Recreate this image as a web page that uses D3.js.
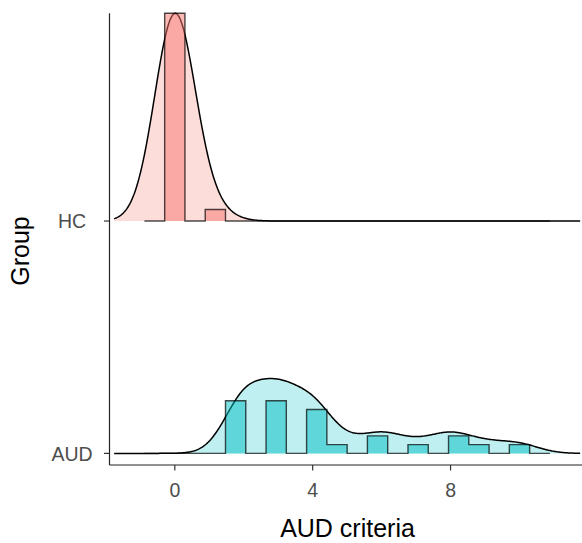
<!DOCTYPE html>
<html>
<head>
<meta charset="utf-8">
<script src="https://cdn.jsdelivr.net/npm/d3@7"></script>
<style>
  html, body { margin: 0; padding: 0; background: #fff; }
  svg { display: block; }
  text { font-family: "Liberation Sans", Arial, sans-serif; }
</style>
</head>
<body>
<svg id="chart" width="582" height="543"></svg>
<script>
// ---- data ----
const groups = ["AUD", "HC"];                 // bottom to top
const groupColors = ["#00BFC4", "#F8766D"];
const hcValues = [0, 1];
const hcCounts = [18, 1];
const audValues = [2, 3, 4, 5, 6, 7, 8, 9, 10];
const audCounts = [6, 6, 5, 1, 2, 1, 2, 1, 1];
const xTicks = [0, 4, 8];
const nBins = 18;
const ridgeScale = 0.894;
const xTitle = "AUD criteria";
const yTitle = "Group";

// ---- expand raw observations ----
function expand(vals, counts) {
  const out = [];
  vals.forEach((v, i) => { for (let k = 0; k < counts[i]; k++) out.push(v); });
  return out;
}
const raw = { AUD: expand(audValues, audCounts), HC: expand(hcValues, hcCounts) };
const all = raw.AUD.concat(raw.HC);
const xmin = d3.min(all), xmax = d3.max(all);

// R's bw.nrd0
function bwNrd0(x) {
  const s = x.slice().sort(d3.ascending);
  const hi = d3.deviation(s);
  let lo = Math.min(hi, (d3.quantileSorted(s, 0.75) - d3.quantileSorted(s, 0.25)) / 1.34);
  if (!lo) lo = hi || Math.abs(s[0]) || 1;
  return 0.9 * lo * Math.pow(s.length, -0.2);
}
const bw = d3.mean(groups.map(g => bwNrd0(raw[g])));
const from = xmin - 3 * bw, to = xmax + 3 * bw;

// KDE
const gridN = 512;
const grid = d3.range(gridN).map(i => from + (to - from) * i / (gridN - 1));
function kde(x) {
  const n = x.length, c = 1 / (Math.sqrt(2 * Math.PI) * bw * n);
  return grid.map(g => [g, c * d3.sum(x, xi => Math.exp(-0.5 * ((g - xi) / bw) ** 2))]);
}
const dens = {};
groups.forEach(g => dens[g] = kde(raw[g]));

// binline (right-closed bins, padded)
const w = (xmax - xmin) / (nBins - 1);
const hist = {};
groups.forEach(g => {
  const n = raw[g].length;
  const counts = new Array(nBins).fill(0);
  raw[g].forEach(v => {
    const k = Math.ceil((v - xmin) / w - 0.5 - 1e-9);
    counts[Math.max(0, Math.min(nBins - 1, k))]++;
  });
  const pts = [];
  for (let k = -1; k <= nBins; k++) {
    const c = (k >= 0 && k < nBins) ? counts[k] : 0;
    const h = c / (n * w);
    const l = xmin + (k - 0.5) * w, r = xmin + (k + 0.5) * w;
    pts.push([l, h], [r, h]);
  }
  hist[g] = pts;
});

// ---- scales ----
const svg = d3.select("#chart");
const panel = { left: 109.5, right: 584.8, top: 13.3, bottom: 465 };
const span = to - from;
const x = d3.scaleLinear().domain([from - 0.01 * span, to + 0.01 * span]).range([panel.left, panel.right]);
const y = d3.scaleLinear().domain([-0.05, 1.894]).range([panel.bottom, panel.top]);
const spacing = y(0) - y(1);
const maxDens = d3.max(groups, g => d3.max(dens[g], d => d[1]));
const maxHist = d3.max(groups, g => d3.max(hist[g], d => d[1]));
const hDens = d3.scaleLinear().domain([0, maxDens]).range([0, ridgeScale * spacing]);
const hHist = d3.scaleLinear().domain([0, maxHist]).range([0, ridgeScale * spacing]);

// ---- ridges ----
groups.forEach((g, gi) => {
  const base = y(gi);
  const col = groupColors[gi];
  const areaH = d3.area().x(d => x(d[0])).y0(base).y1(d => base - hHist(d[1]));
  const lineH = d3.line().x(d => x(d[0])).y(d => base - hHist(d[1]));
  const areaD = d3.area().x(d => x(d[0])).y0(base).y1(d => base - hDens(d[1]));
  const lineD = d3.line().x(d => x(d[0])).y(d => base - hDens(d[1]));
  const gg = svg.append("g");
  gg.append("path").attr("d", areaD(dens[g])).attr("fill", col).attr("fill-opacity", 0.25);
  gg.append("path").attr("d", lineD(dens[g])).attr("fill", "none").attr("stroke", "#000").attr("stroke-width", 1.5);
  gg.append("path").attr("d", areaH(hist[g])).attr("fill", col).attr("fill-opacity", 0.5);
  gg.append("path").attr("d", lineH(hist[g])).attr("fill", "none").attr("stroke", "#000").attr("stroke-opacity", 0.7).attr("stroke-width", 1.4);
});

// ---- axes ----
const axisCol = "#222";
svg.append("line").attr("x1", panel.left).attr("x2", 582).attr("y1", panel.bottom).attr("y2", panel.bottom)
  .attr("stroke", axisCol).attr("stroke-width", 1.2);
svg.append("line").attr("x1", panel.left).attr("x2", panel.left).attr("y1", panel.top).attr("y2", panel.bottom)
  .attr("stroke", axisCol).attr("stroke-width", 1.2);

xTicks.forEach(t => {
  svg.append("line").attr("x1", x(t)).attr("x2", x(t)).attr("y1", panel.bottom).attr("y2", panel.bottom + 5.5)
    .attr("stroke", "#333").attr("stroke-width", 1.2);
  svg.append("text").attr("x", x(t)).attr("y", 496.7).attr("text-anchor", "middle")
    .attr("font-size", 19.5).attr("fill", "#4D4D4D").text(t);
});
groups.forEach((g, gi) => {
  svg.append("line").attr("x1", panel.left - 5.5).attr("x2", panel.left).attr("y1", y(gi)).attr("y2", y(gi))
    .attr("stroke", "#333").attr("stroke-width", 1.2);
  svg.append("text").attr("x", 72).attr("y", y(gi) + 7.3).attr("text-anchor", "middle")
    .attr("font-size", 19.5).attr("fill", "#4D4D4D").text(g);
});

svg.append("text").attr("x", 347.5).attr("y", 536.7).attr("text-anchor", "middle")
  .attr("font-size", 25).attr("fill", "#000").text(xTitle);
svg.append("text").attr("transform", "translate(29,251) rotate(-90)").attr("text-anchor", "middle")
  .attr("font-size", 25).attr("fill", "#000").text(yTitle);
</script>
</body>
</html>
